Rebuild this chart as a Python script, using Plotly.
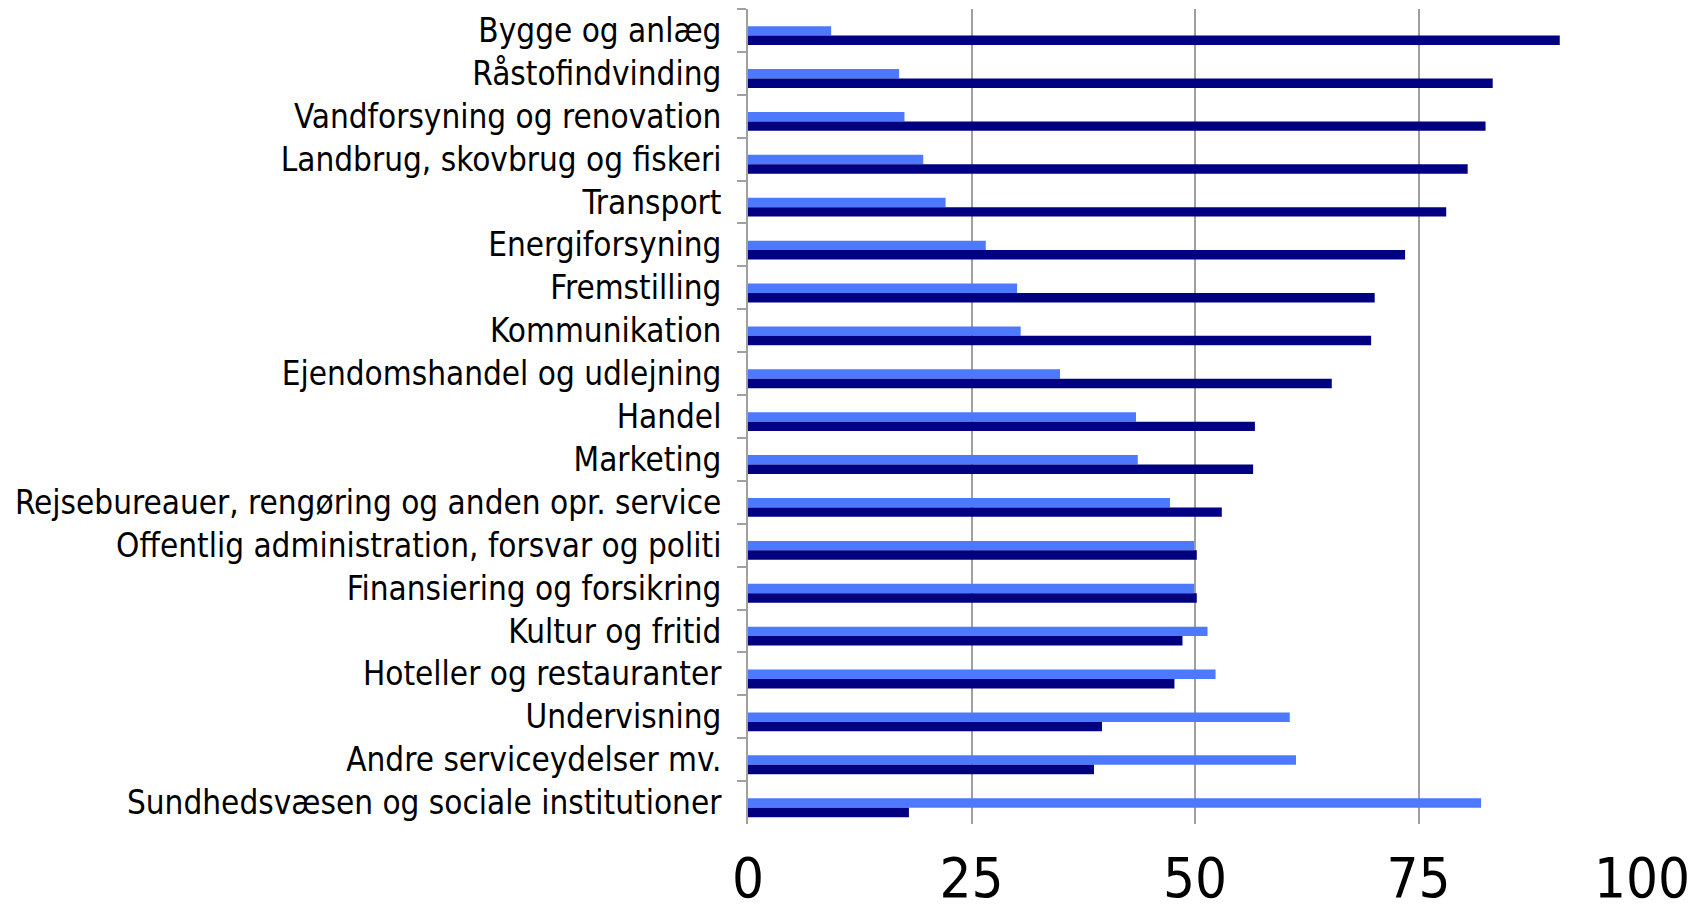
import plotly.graph_objects as go

categories = [
    "Bygge og anlæg",
    "Råstofindvinding",
    "Vandforsyning og renovation",
    "Landbrug, skovbrug og fiskeri",
    "Transport",
    "Energiforsyning",
    "Fremstilling",
    "Kommunikation",
    "Ejendomshandel og udlejning",
    "Handel",
    "Marketing",
    "Rejsebureauer, rengøring og anden opr. service",
    "Offentlig administration, forsvar og politi",
    "Finansiering og forsikring",
    "Kultur og fritid",
    "Hoteller og restauranter",
    "Undervisning",
    "Andre serviceydelser mv.",
    "Sundhedsvæsen og sociale institutioner",
]

kvinder = [9.3, 16.9, 17.5, 19.6, 22.1, 26.6, 30.1, 30.5, 34.9, 43.4, 43.6, 47.2,
           49.9, 49.9, 51.4, 52.3, 60.6, 61.3, 82.0]
maend = [90.8, 83.3, 82.5, 80.5, 78.1, 73.5, 70.1, 69.7, 65.3, 56.7, 56.5, 53.0,
         50.2, 50.2, 48.6, 47.7, 39.6, 38.7, 18.0]

x_ticks = [0, 25, 50, 75, 100]

LIGHT = "#4D79FF"
DARK = "#000080"
GRID = "#A0A0A0"
FONT = "DejaVu Sans Condensed, DejaVu Sans, sans-serif"

fig = go.Figure()
fig.add_trace(go.Bar(
    y=categories, x=kvinder, orientation="h", name="Kvinder",
    marker=dict(color=LIGHT, line=dict(width=0)),
    offset=-0.10, width=0.22, showlegend=False,
))
fig.add_trace(go.Bar(
    y=categories, x=maend, orientation="h", name="Mænd",
    marker=dict(color=DARK, line=dict(width=0)),
    offset=0.12, width=0.22, showlegend=False,
))

# the page body adds an 8px margin, so the figure is 8px smaller on each axis
fig.update_layout(
    width=1696, height=901,
    margin=dict(l=740, r=62, t=1, b=85),
    paper_bgcolor="white", plot_bgcolor="white",
    barmode="overlay",
    font=dict(family=FONT, color="black"),
)
fig.update_xaxes(
    range=[0, 100], tickvals=x_ticks, ticktext=[str(v) for v in x_ticks],
    showgrid=True, gridcolor=GRID, gridwidth=2,
    zeroline=False, showline=False, ticks="",
    tickfont=dict(family=FONT, size=56, color="black"),
    ticklabelstandoff=16, automargin=False,
)
fig.update_yaxes(
    categoryorder="array", categoryarray=categories, autorange="reversed",
    showgrid=False, zeroline=False,
    showline=True, linecolor=GRID, linewidth=2,
    ticks="outside", tickson="boundaries", ticklen=9, tickwidth=2, tickcolor=GRID,
    tickfont=dict(family=FONT, size=33, color="black"),
    ticklabelstandoff=18, automargin=False,
)

fig.write_html("out.html")
